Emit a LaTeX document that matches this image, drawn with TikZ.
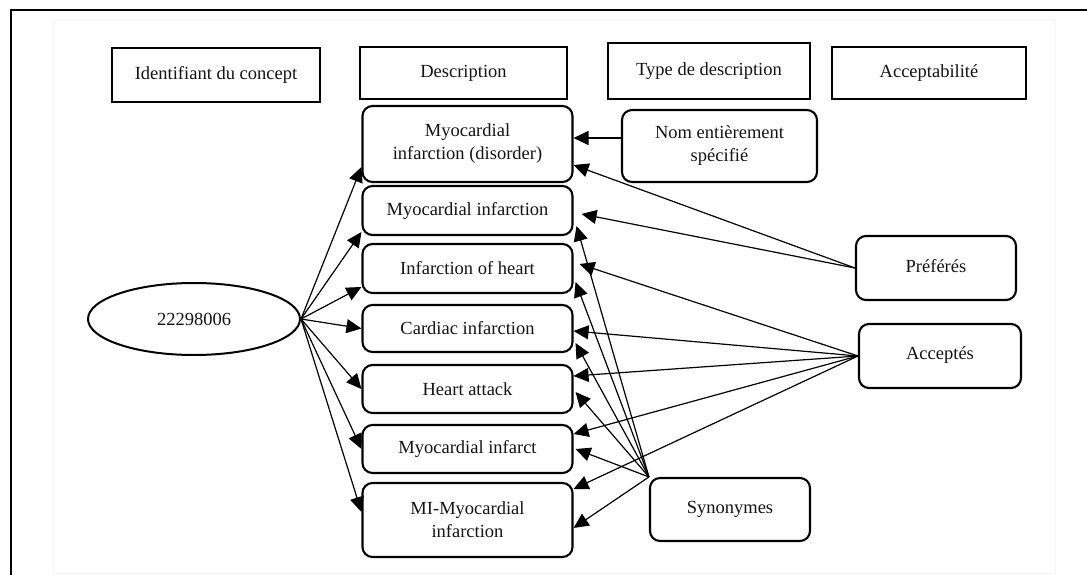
\documentclass[tikz,border=0pt]{standalone}
\usepackage{fontspec}
\setmainfont{Liberation Serif}
\usetikzlibrary{arrows.meta,shapes.geometric}
\begin{document}
\begin{tikzpicture}[x=1pt,y=-1pt,
  every node/.style={font=\fontsize{18.5}{23}\selectfont, text=black!92, align=center, inner sep=0pt},
  header/.style={draw, line width=2.3pt, rectangle},
  item/.style={draw, line width=2.1pt, rectangle, rounded corners=10pt},
  conn/.style={line width=1.2pt, -{Triangle[length=15pt,width=14pt]}}]
\useasboundingbox (0,0) rectangle (1087,575);
% frame
\draw[black!4, line width=0.8pt] (53,20) rectangle (1055,573);
\draw[line width=2pt] (11,576) -- (11,10) -- (1088,10);

% column headers
\node[header, minimum width=208pt, minimum height=54pt] (hid)   at (216,75)   {Identifiant du concept};
\node[header, minimum width=207pt, minimum height=52pt] (hdesc) at (463.5,73) {Description};
\node[header, minimum width=202pt, minimum height=56pt] (htype) at (709,71)   {Type de description};
\node[header, minimum width=194pt, minimum height=52pt] (hacc)  at (929,73)   {Acceptabilité};

% concept identifier
\node[draw, ellipse, line width=2pt, minimum width=212pt, minimum height=72pt] (id) at (194,319) {22298006};

% descriptions
\node[item, minimum width=210pt, minimum height=76pt] (d1) at (467.5,144)   {Myocardial\\infarction (disorder)};
\node[item, minimum width=210pt, minimum height=49pt] (d2) at (467.5,210.5) {Myocardial infarction};
\node[item, minimum width=210pt, minimum height=49pt] (d3) at (467.5,268.5) {Infarction of heart};
\node[item, minimum width=210pt, minimum height=47pt] (d4) at (467.5,328.5) {Cardiac infarction};
\node[item, minimum width=210pt, minimum height=48pt] (d5) at (467.5,389)   {Heart attack};
\node[item, minimum width=210pt, minimum height=48pt] (d6) at (467.5,449)   {Myocardial infarct};
\node[item, minimum width=210pt, minimum height=74pt] (d7) at (467.5,520)   {MI-Myocardial\\infarction};

% description types
\node[item, minimum width=195pt, minimum height=72pt] (nom) at (719.5,146) {Nom entièrement\\spécifié};
\node[item, minimum width=160pt, minimum height=63pt] (syn) at (730,509.5) {\raisebox{5pt}{Synonymes}};

% acceptability
\node[item, minimum width=160pt, minimum height=64pt] (pref) at (936,268) {\raisebox{5pt}{Préférés}};
\node[item, minimum width=162pt, minimum height=64pt] (acpt) at (940,356) {\raisebox{5pt}{Acceptés}};

% identifier -> descriptions
\draw[conn] (id.east) -- ([yshift=-23pt]d1.west);
\draw[conn] (id.east) -- ([yshift=-21.5pt]d2.west);
\draw[conn] (id.east) -- ([yshift=-18.5pt]d3.west);
\draw[conn] (id.east) -- (d4.west);
\draw[conn] (id.east) -- (d5.west);
\draw[conn] (id.east) -- (d6.west);
\draw[conn] (id.east) -- ([yshift=8pt]d7.west);

% fully specified name
\draw[conn] ([yshift=8pt]nom.west) -- ([yshift=6pt]d1.east);

% preferred
\draw[conn] (pref.west) -- ([yshift=-21pt]d1.east);
\draw[conn] (pref.west) -- ([xshift=8pt,yshift=-3.5pt]d2.east);

% accepted
\draw[conn] (acpt.west) -- ([xshift=6pt,yshift=4.5pt]d3.east);
\draw[conn] (acpt.west) -- ([yshift=-2.5pt]d4.east);
\draw[conn] (acpt.west) -- ([yshift=13pt]d5.east);
\draw[conn] (acpt.west) -- ([yshift=15pt]d6.east);
\draw[conn] (acpt.west) -- ([yshift=31pt]d7.east);

% synonyms
\draw[conn] (syn.north west) -- ([xshift=3pt,yshift=-15.5pt]d2.east);
\draw[conn] (syn.north west) -- ([xshift=2pt,yshift=-13.5pt]d3.east);
\draw[conn] (syn.north west) -- ([xshift=2pt,yshift=-14.5pt]d4.east);
\draw[conn] (syn.north west) -- ([xshift=2pt,yshift=-3pt]d5.east);
\draw[conn] (syn.north west) -- ([xshift=2pt]d6.east);
\draw[conn] (syn.north west) -- ([yshift=-8pt]d7.east);
\end{tikzpicture}
\end{document}
